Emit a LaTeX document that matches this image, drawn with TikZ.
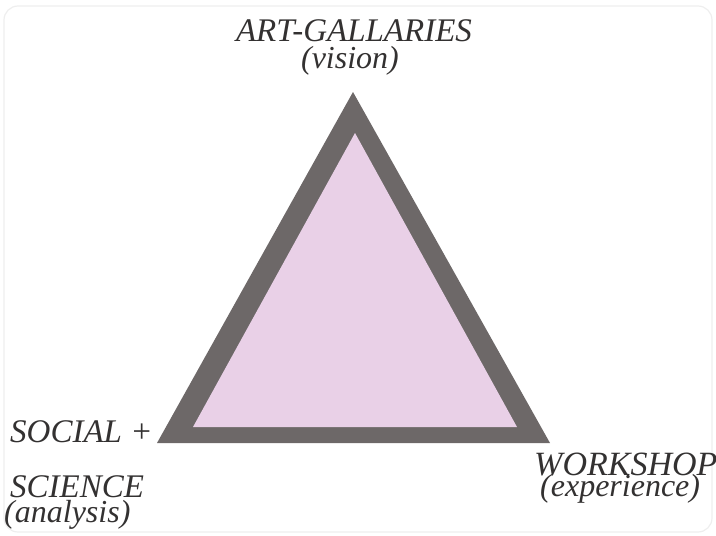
\documentclass[tikz,border=0pt]{standalone}
\usepackage{fontspec}
\setmainfont{Liberation Serif}
\usetikzlibrary{positioning,calc}
\definecolor{trigrey}{HTML}{6D6868}
\definecolor{tripink}{HTML}{E9D0E7}
\definecolor{labelink}{HTML}{333131}
\definecolor{framegrey}{HTML}{EEEEEE}

\begin{document}
\begin{tikzpicture}[x=1pt,y=-1pt,
  toplabel/.style={font=\itshape\fontsize{33}{33}\selectfont,text=labelink,inner sep=0pt,anchor=base},
  sidelabel/.style={font=\itshape\fontsize{33}{33}\selectfont,text=labelink,inner sep=0pt,anchor=base west},
  sublabel/.style={font=\itshape\fontsize{32}{32}\selectfont,text=labelink,inner sep=0pt,anchor=base west}]
  \useasboundingbox (0,0) rectangle (716,536);
  % faint frame of the picture
  \draw[framegrey,line width=1.2,rounded corners=14] (4,6) rectangle (712,532);
  % triangle -- grey rim, pink face
  \coordinate (outA) at (353,92);
  \coordinate (outL) at (157,443);
  \coordinate (outR) at (550,443);
  \coordinate (inA) at (355,133);
  \coordinate (inL) at (193,427);
  \coordinate (inR) at (517,427);
  \fill[trigrey] (outA) -- (outL) -- (outR) -- cycle;
  \fill[tripink] (inA) -- (inL) -- (inR) -- cycle;
  % corner labels
  \node[toplabel] (art) at (354,41) {ART-GALLARIES};
  \node[toplabel,font=\itshape\fontsize{32}{32}\selectfont] (vision) at (350,68) {(vision)};
  \node[sidelabel] (social) at (10,442) {SOCIAL +};
  \node[sidelabel] (science) at (10,497) {SCIENCE};
  \node[sublabel] (analysis) at (4,522) {(analysis)};
  \node[sidelabel,font=\itshape\fontsize{34}{34}\selectfont] (workshop) at (534,475) {WORKSHOP};
  \node[sublabel] (experience) at (540,496) {(experience)};
\end{tikzpicture}
\end{document}
